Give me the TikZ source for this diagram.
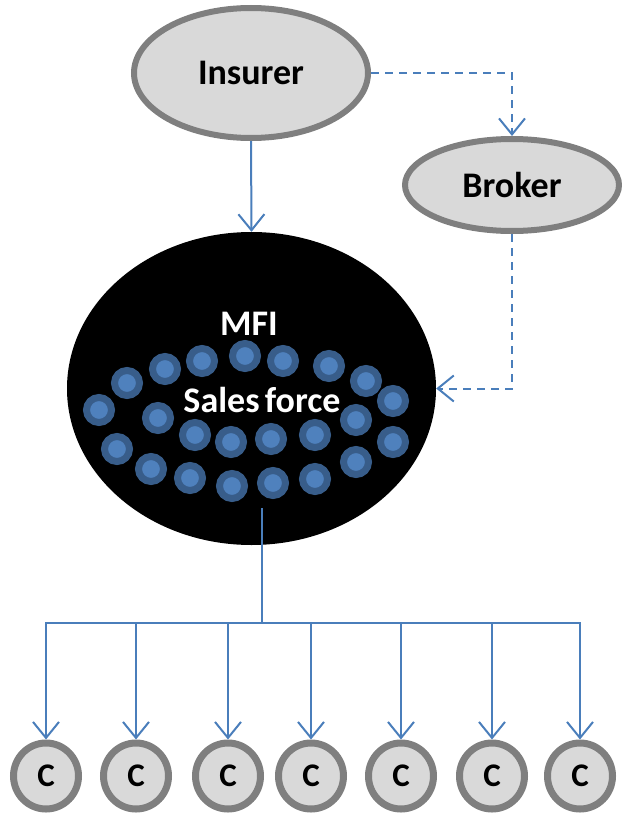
\documentclass[tikz,border=0pt]{standalone}
\usepackage{fontspec}
\setmainfont{Carlito}
\usetikzlibrary{arrows.meta,shapes.geometric}
\definecolor{bgray}{HTML}{7F7F7F}
\definecolor{lgray}{HTML}{D9D9D9}
\definecolor{lblue}{HTML}{4A7EBB}
\definecolor{dblue}{HTML}{385D8A}
\definecolor{mblue}{HTML}{4F81BD}
\begin{document}
\begin{tikzpicture}[x=1pt,y=-1pt,
  party/.style={ellipse, draw=bgray, fill=lgray, line width=6pt, inner sep=0pt,
    font=\fontsize{36}{40}\selectfont\bfseries},
  client/.style={ellipse, draw=bgray, fill=lgray, line width=7pt, inner sep=0pt,
    minimum width=65pt, minimum height=66pt, font=\fontsize{33}{36}\selectfont\bfseries},
  mfibox/.style={ellipse, fill=black, inner sep=0pt},
  dot/.style={circle, draw=dblue, fill=mblue, line width=7pt, inner sep=0pt, minimum size=25pt},
  wlabel/.style={text=white, inner sep=0pt, font=\fontsize{36}{40}\selectfont\bfseries},
  link/.style={draw=lblue, line width=2pt, -{Straight Barb[length=16pt,width=26pt,line width=2pt]}},
  plain/.style={draw=lblue, line width=2pt},
  dsh/.style={dash pattern=on 8pt off 6pt}
]
\useasboundingbox (0,0) rectangle (621,816);

% nodes
\node[party, minimum width=234pt, minimum height=130pt] (ins) at (251,73) {Insurer};
\node[party, minimum width=214pt, minimum height=92pt] (brk) at (512,185) {Broker};
\node[mfibox, minimum width=369pt, minimum height=313pt] (mfi) at (251.5,388.5) {};

\foreach \x/\y [count=\i] in {
  99/410, 127/383, 165/369, 202/361, 245/356, 283/361, 329/366, 366/381, 393/401,
  158/418, 195/435, 231/442, 271/439, 315/435, 356/420, 393/442,
  117/449, 151/469, 190/478, 232/486, 273/483, 315/479, 356/462}
  \node[dot] (d\i) at (\x,\y) {};

\node[wlabel] (mfit) at (249,324) {MFI};
\node[wlabel] (sft) at (262,400) {Sales\hspace{-0.08em} force};

\foreach \x [count=\i] in {46,136,228,311,401,492,580}
  \node[client] (c\i) at (\x,776) {C};

% connectors
\draw[link] (ins.south) -- (mfi.north);
\draw[link, dsh] (ins.east) -| (brk.north);
\draw[link, dsh] (brk.south) |- (mfi.east);

\coordinate (mfo) at (262,508);
\coordinate (hub) at (262,623);
\draw[plain] (mfo) -- (hub);
\foreach \i in {1,...,7}
  \draw[link] (hub) -| (c\i.north);
\end{tikzpicture}
\end{document}
